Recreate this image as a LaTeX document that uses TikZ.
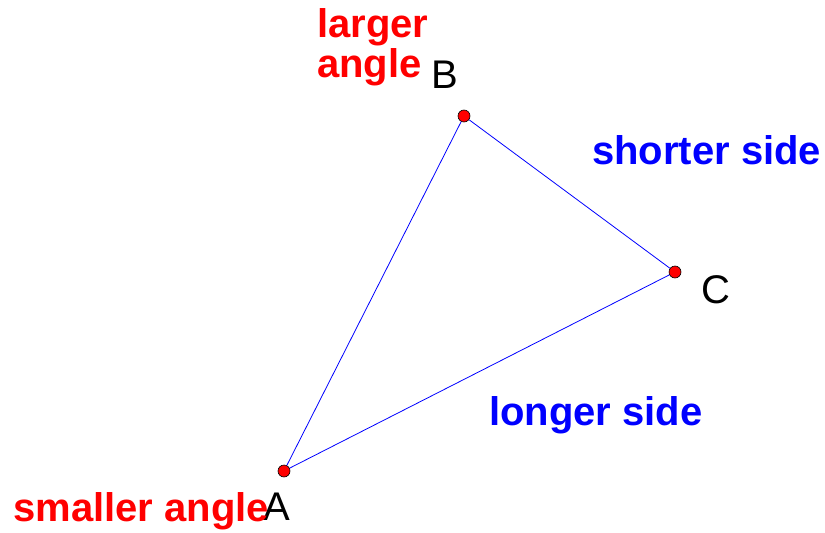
\documentclass[tikz,border=0pt]{standalone}
\usepackage{fontspec}
\setmainfont{Liberation Sans}
\usepackage{tikz}
\usetikzlibrary{positioning}

\begin{document}
\begin{tikzpicture}[
   x=1pt,y=-1pt,
   vtx/.style={circle,draw=black,line width=0.6pt,fill=red,minimum size=12pt,inner sep=0pt},
   side/.style={blue,line width=0.8pt},
   vname/.style={font=\fontsize{40}{40}\selectfont,inner sep=0pt,anchor=base west},
   redlab/.style={red,font=\fontsize{40}{40}\selectfont\bfseries,inner sep=0pt,anchor=base west,align=left},
   bluelab/.style={blue,font=\fontsize{40}{40}\selectfont\bfseries,inner sep=0pt,anchor=base west}
]
\useasboundingbox (0,0) rectangle (825,533);

% =========== triangle ============
\node[vtx] (A) at (284,471) {};
\node[vtx] (B) at (464,116) {};
\node[vtx] (C) at (675,272) {};
\draw[side] (A) -- (B);
\draw[side] (B) -- (C);
\draw[side] (C) -- (A);

% vertex letters
\node[vname] (Alab) at (263,520) {A};
\node[vname] (Blab) at (431,88) {B};
\node[vname] (Clab) at (701,303) {C};

% =========== labels ============
\node[redlab] (big) at (317,77) {larger\\angle};
\node[redlab] (small) at (13,521) {smaller angle};
\node[bluelab] (short) at (592,164) {shorter side};
\node[bluelab] (long) at (489,425) {longer side};

\end{tikzpicture}
\end{document}
